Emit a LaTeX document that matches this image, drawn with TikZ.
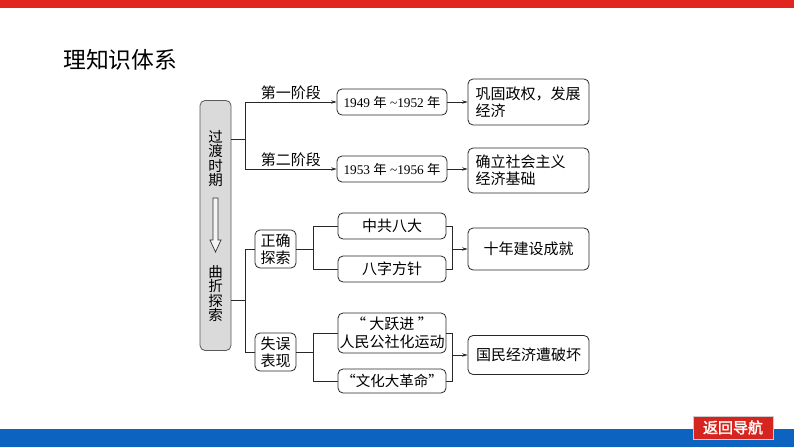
\documentclass[tikz,border=0pt]{standalone}
\usepackage{fontspec}
\setmainfont{Liberation Serif}
\newfontfamily\cjk[AutoFakeBold=2]{Noto Sans CJK SC}
\usetikzlibrary{arrows.meta}
\definecolor{topred}{RGB}{224,38,30}
\definecolor{botblue}{RGB}{12,100,192}
\definecolor{btnred}{RGB}{214,36,30}
\definecolor{periodfill}{RGB}{218,218,218}
\definecolor{linec}{RGB}{40,40,40}
\tikzset{
  box/.style={draw=linec, line width=0.8pt, rounded corners=5pt, fill=white, inner sep=0pt, font=\cjk\fontsize{15}{17}\selectfont},
  yearbox/.style={box, minimum width=110pt, minimum height=26pt, font=\fontsize{13.3}{15}\selectfont},
  conn/.style={line width=0.9pt, draw=linec},
  arr/.style={conn, -{Stealth[length=5.5pt,width=3.5pt]}},
  lbl/.style={font=\cjk\fontsize{15}{17}\selectfont, inner sep=1pt},
  vtext/.style={font=\cjk\fontsize{14.5}{14.6}\selectfont, align=center, inner sep=0pt},
}
\begin{document}
\begin{tikzpicture}[x=1pt,y=-1pt]
\useasboundingbox (0,0) rectangle (794,447);
% bars
\fill[topred] (0,0) rectangle (794,8);
\fill[botblue] (0,429) rectangle (794,447);
\node[fill=btnred, draw=gray!40, line width=0.6pt, minimum width=80pt, minimum height=23pt, inner sep=0pt, text=white, font=\cjk\fontsize{15}{17}\selectfont\bfseries] (btn) at (733,427.5) {返回导航};
% title
\node[anchor=west, inner sep=0pt, font=\cjk\fontsize{22.8}{24}\selectfont] (title) at (63,60) {理知识体系};
% period box
\node[draw=gray!70!black, line width=0.8pt, rounded corners=5pt, fill=periodfill, minimum width=31pt, minimum height=250pt, inner sep=0pt] (period) at (215.5,225.5) {};
\node[vtext] (t1) at (215.5,158.5) {过\\渡\\时\\期};
\node[vtext] (t2) at (215.5,293.5) {曲\\折\\探\\索};
\draw[line width=0.7pt, draw=gray!40!black, fill=gray!8]
  (213,198) -- (218,198) -- (218,240) -- (221,240) -- (215.5,252) -- (210,240) -- (213,240) -- cycle;
% upper section
\node[yearbox] (y1) at (392,102) {1949 {\cjk\fontsize{13.3}{15}\selectfont 年} \textasciitilde1952 {\cjk\fontsize{13.3}{15}\selectfont 年}};
\node[yearbox] (y2) at (392,169) {1953 {\cjk\fontsize{13.3}{15}\selectfont 年} \textasciitilde1956 {\cjk\fontsize{13.3}{15}\selectfont 年}};
\node[box, minimum width=121pt, minimum height=46pt, text width=106pt, align=left] (g1) at (528.5,102) {巩固政权，发展\\经济};
\node[box, minimum width=121pt, minimum height=45pt, text width=106pt, align=left] (g2) at (528.5,170.5) {确立社会主义\\经济基础};
\coordinate (j1) at (245,139);
\draw[conn] (period.east |- j1) -- (j1);
\draw[conn] (y1.west -| j1) -- (y2.west -| j1);
\draw[arr] (y1.west -| j1) -- (y1.west) node[lbl, midway, above=1pt] (l1) {第一阶段};
\draw[arr] (y2.west -| j1) -- (y2.west) node[lbl, midway, above=1pt] (l2) {第二阶段};
\draw[arr] (y1.east) -- (g1.west |- y1.east);
\draw[arr] (y2.east) -- (g2.west |- y2.east);
% lower section
\node[box, minimum width=41pt, minimum height=38pt, align=center] (zq) at (275.5,249) {正确\\探索};
\node[box, minimum width=41pt, minimum height=38pt, align=center] (sw) at (275.5,352) {失误\\表现};
\coordinate (j2) at (245,300);
\draw[conn] (period.east |- j2) -- (j2);
\draw[conn] (zq.west -| j2) -- (sw.west -| j2);
\draw[conn] (zq.west -| j2) -- (zq.west);
\draw[conn] (sw.west -| j2) -- (sw.west);
\node[box, minimum width=108pt, minimum height=26pt] (zg) at (392,226) {中共八大};
\node[box, minimum width=108pt, minimum height=26pt] (bz) at (392,269) {八字方针};
\node[box, minimum width=108pt, minimum height=40pt, align=center, font=\cjk\fontsize{15}{18}\selectfont] (dy) at (392,333) {“ 大跃进 ”\\人民公社化运动};
\node[box, minimum width=108pt, minimum height=24pt, font=\cjk\fontsize{14.5}{17}\selectfont] (wg) at (392,381) {“文化大革命”};
\coordinate (j3) at (313,249);
\draw[conn] (zq.east) -- (j3);
\draw[conn] (zg.west -| j3) -- (bz.west -| j3);
\draw[conn] (zg.west -| j3) -- (zg.west);
\draw[conn] (bz.west -| j3) -- (bz.west);
\coordinate (j4) at (313,352);
\draw[conn] (sw.east) -- (j4);
\draw[conn] (dy.west -| j4) -- (wg.west -| j4);
\draw[conn] (dy.west -| j4) -- (dy.west);
\draw[conn] (wg.west -| j4) -- (wg.west);
\node[box, minimum width=121pt, minimum height=42pt] (sn) at (528.5,249) {十年建设成就};
\node[box, minimum width=121pt, minimum height=39pt] (gm) at (528.5,355) {国民经济遭破坏};
\coordinate (b1) at (452,249);
\draw[conn] (zg.east) -- (zg.east -| b1) -- (bz.east -| b1) -- (bz.east);
\draw[arr] (b1) -- (sn.west);
\coordinate (b2) at (452,355);
\draw[conn] (dy.east) -- (dy.east -| b2) -- (wg.east -| b2) -- (wg.east);
\draw[arr] (b2) -- (gm.west);
\end{tikzpicture}
\end{document}
